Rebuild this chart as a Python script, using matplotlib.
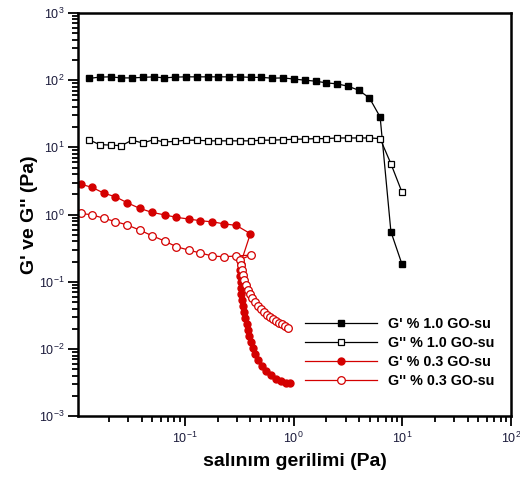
import matplotlib
matplotlib.use("Agg")
import matplotlib.pyplot as plt
from matplotlib.ticker import LogLocator, NullFormatter

plt.rcParams['font.family'] = ['Liberation Sans', 'DejaVu Sans']
plt.rcParams['mathtext.fontset'] = 'custom'
plt.rcParams['mathtext.rm'] = 'Liberation Sans'
plt.rcParams['mathtext.it'] = 'Liberation Sans:italic'
plt.rcParams['mathtext.bf'] = 'Liberation Sans:bold'

# G' and G'' for 1.0 % GO-su
x_10 = [0.0131, 0.0164, 0.0207, 0.0260, 0.0327, 0.0410, 0.0515, 0.0648, 0.0814, 0.102,
        0.129, 0.162, 0.203, 0.255, 0.321, 0.403, 0.506, 0.636, 0.800, 1.00,
        1.26, 1.59, 1.99, 2.50, 3.15, 3.95, 4.97, 6.24, 7.84, 9.86]
gp_10 = [106, 111, 112, 108, 108, 110, 112, 108, 111, 112,
         112, 112, 112, 112, 112, 110, 110, 107, 108, 104,
         100, 96.6, 91.2, 88.1, 81.4, 71.0, 54.5, 28.3, 0.557, 0.187]
gpp_10 = [13.0, 11.0, 10.8, 10.6, 12.8, 11.6, 13.0, 12.0, 12.3, 12.8,
          12.8, 12.5, 12.5, 12.5, 12.5, 12.5, 12.8, 12.8, 13.0, 13.2,
          13.3, 13.5, 13.5, 13.8, 13.8, 13.8, 13.8, 13.5, 5.71, 2.20]

# G' for 0.3 % GO-su
x_03_gp = [0.0111, 0.0141, 0.0180, 0.0230, 0.0295, 0.0383, 0.0497, 0.0650, 0.0834, 0.108,
           0.139, 0.179, 0.227, 0.297, 0.400,
           0.325, 0.319, 0.319, 0.325, 0.325, 0.325, 0.332, 0.340, 0.347, 0.354,
           0.370, 0.378, 0.386, 0.402, 0.420, 0.438, 0.467, 0.508, 0.553, 0.614,
           0.683, 0.759, 0.844, 0.919]
gp_03 = [2.83, 2.53, 2.08, 1.84, 1.50, 1.24, 1.08, 0.99, 0.91, 0.86,
         0.81, 0.78, 0.73, 0.69, 0.52,
         0.186, 0.151, 0.123, 0.100, 0.0813, 0.0662, 0.0539, 0.0438, 0.0357, 0.0290,
         0.0236, 0.0192, 0.0156, 0.0127, 0.01035, 0.0084, 0.00685, 0.00557, 0.0047, 0.0041,
         0.00357, 0.00333, 0.00316, 0.00311]

# G'' for 0.3 % GO-su
x_03_gpp = [0.0111, 0.0141, 0.0180, 0.0230, 0.0295, 0.0383, 0.0497, 0.0650, 0.0834, 0.108,
            0.139, 0.179, 0.227, 0.297, 0.408,
            0.319, 0.325, 0.332, 0.340, 0.347, 0.362, 0.378, 0.394, 0.411, 0.438,
            0.467, 0.497, 0.530, 0.565, 0.602, 0.641, 0.683, 0.728, 0.776, 0.826, 0.881]
gpp_03 = [1.04, 0.99, 0.88, 0.787, 0.70, 0.59, 0.486, 0.405, 0.333, 0.297,
          0.268, 0.242, 0.236, 0.242, 0.250,
          0.213, 0.179, 0.151, 0.127, 0.107, 0.0902, 0.076, 0.0662, 0.0577, 0.0503,
          0.0438, 0.0395, 0.0357, 0.0322, 0.0301, 0.0276, 0.0257, 0.0244, 0.0232, 0.0217, 0.0206]

labels = ["G' % 1.0 GO-su", "G'' % 1.0 GO-su", "G' % 0.3 GO-su", "G'' % 0.3 GO-su"]
red = '#d40000'

fig = plt.figure(figsize=(5.2, 4.79), dpi=100)
ax = fig.add_axes([0.15, 0.131, 0.833, 0.842])

ax.plot(x_10, gp_10, color='black', lw=0.9, marker='s', ms=4, mfc='black', label=labels[0])
ax.plot(x_10, gpp_10, color='black', lw=0.9, marker='s', ms=4.8, mfc='white', mew=0.9, label=labels[1])
ax.plot(x_03_gp, gp_03, color=red, lw=0.9, marker='o', ms=5, mfc=red, mec=red, label=labels[2])
ax.plot(x_03_gpp, gpp_03, color=red, lw=0.9, marker='o', ms=5.5, mfc='white', mec=red, mew=0.9, label=labels[3])

ax.set_xscale('log')
ax.set_yscale('log')
ax.set_xlim(0.0104, 100)
ax.set_ylim(1e-3, 1e3)

ax.xaxis.set_major_locator(LogLocator(base=10, numticks=10))
ax.xaxis.set_minor_locator(LogLocator(base=10, subs=range(2, 10), numticks=20))
ax.yaxis.set_major_locator(LogLocator(base=10, numticks=10))
ax.yaxis.set_minor_locator(LogLocator(base=10, subs=range(2, 10), numticks=20))
ax.xaxis.set_minor_formatter(NullFormatter())
ax.yaxis.set_minor_formatter(NullFormatter())

for s in ax.spines.values():
    s.set_linewidth(1.8)
ax.tick_params(which='both', direction='out', top=False, right=False, width=1.3,
               labelsize=9, labelcolor='#1c1c3c')
ax.tick_params(which='major', length=7.5)
ax.tick_params(which='minor', length=4.5)
ax.tick_params(axis='x', which='major', pad=3)
ax.tick_params(axis='y', which='major', pad=2)

ax.set_xlabel('salınım gerilimi (Pa)', fontsize=14, fontweight='bold', labelpad=5)
ax.set_ylabel("G' ve G'' (Pa)", fontsize=14, fontweight='bold', labelpad=1)

leg = ax.legend(loc='center left', bbox_to_anchor=(0.524, 0.158), frameon=False,
                handlelength=5.0, handletextpad=0.8, labelspacing=0.33,
                borderpad=0, borderaxespad=0, prop={'weight': 'bold', 'size': 10.3})

fig.savefig('out.png', dpi=100)
